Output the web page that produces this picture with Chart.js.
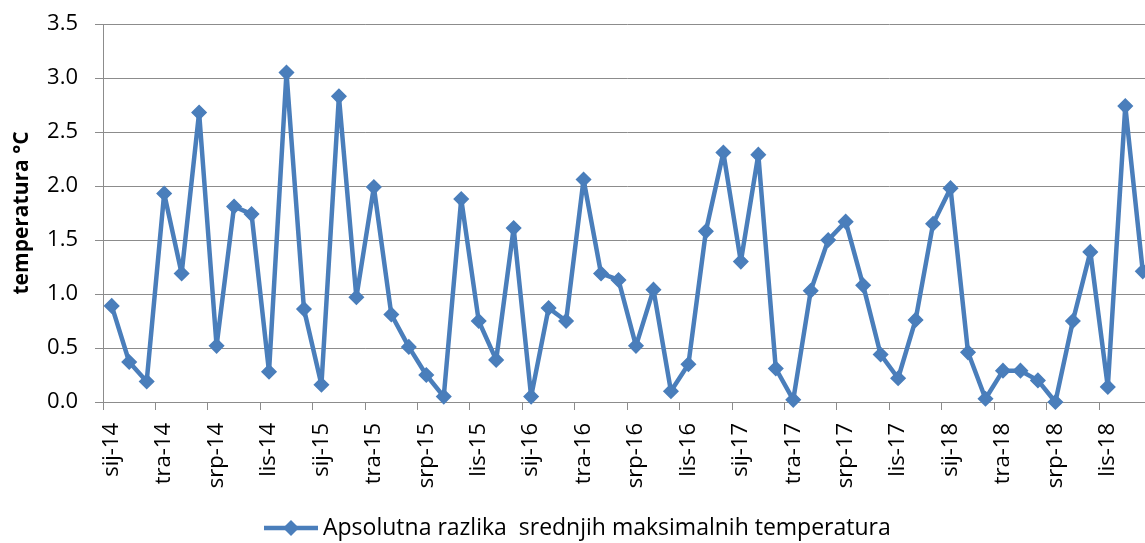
<!DOCTYPE html>
<html>
<head>
<meta charset="utf-8">
<script src="https://cdn.jsdelivr.net/npm/chart.js@4.4.1/dist/chart.umd.min.js"></script>
<style>
  html, body { margin: 0; padding: 0; background: #ffffff; overflow: hidden; }
  body { width: 1200px; }
  #wrap { width: 1160px; height: 543px; }
  #c { width: 1160px !important; height: 543px !important; display: block; }
</style>
</head>
<body>
<div id="wrap"><canvas id="c" width="1160" height="543"></canvas></div>
<script>
// Month abbreviations (Croatian) and years
const months = ['sij', 'velj', 'ožu', 'tra', 'svi', 'lip', 'srp', 'kol', 'ruj', 'lis', 'stu', 'pro'];
const years = ['14', '15', '16', '17', '18'];

// Series values (°C), Jan 2014 – Dec 2018
const values2014 = [0.89, 0.37, 0.19, 1.93, 1.19, 2.68, 0.52, 1.81, 1.74, 0.28, 3.05, 0.86];
const values2015 = [0.16, 2.83, 0.97, 1.99, 0.81, 0.51, 0.25, 0.05, 1.88, 0.75, 0.39, 1.61];
const values2016 = [0.05, 0.87, 0.75, 2.06, 1.19, 1.13, 0.52, 1.04, 0.10, 0.35, 1.58, 2.31];
const values2017 = [1.30, 2.29, 0.31, 0.02, 1.03, 1.50, 1.67, 1.08, 0.44, 0.22, 0.76, 1.65];
const values2018 = [1.98, 0.46, 0.03, 0.29, 0.29, 0.20, 0.00, 0.75, 1.39, 0.14, 2.74, 1.21];

const yTicks = [0, 0.5, 1.0, 1.5, 2.0, 2.5, 3.0, 3.5];
const seriesLabel = 'Apsolutna razlika  srednjih maksimalnih temperatura';
const yTitle = 'temperatura °C';

const categories = [];
years.forEach(y => months.forEach(m => categories.push(m + '-' + y)));
const values = [].concat(values2014, values2015, values2016, values2017, values2018);

const BLUE = '#4A7EBB';
const GRID = '#8C8C8C';
const FONT = "'Open Sans', 'Noto Sans', sans-serif";

const legendPlugin = {
  id: 'customLegend',
  afterDraw(chart) {
    const ctx = chart.ctx;
    const ds = chart.data.datasets[0];
    const cy = 528;
    const x0 = 264, x1 = 318;
    ctx.save();
    ctx.strokeStyle = BLUE;
    ctx.lineWidth = 4.5;
    ctx.beginPath();
    ctx.moveTo(x0, cy);
    ctx.lineTo(x1, cy);
    ctx.stroke();
    const cx = (x0 + x1) / 2, r = 8;
    ctx.fillStyle = BLUE;
    ctx.beginPath();
    ctx.moveTo(cx, cy - r);
    ctx.lineTo(cx + r, cy);
    ctx.lineTo(cx, cy + r);
    ctx.lineTo(cx - r, cy);
    ctx.closePath();
    ctx.fill();
    ctx.fillStyle = '#000000';
    ctx.font = "23px " + FONT;
    ctx.textBaseline = 'middle';
    ctx.textAlign = 'left';
    ctx.fillText(ds.label, 323, cy);
    ctx.restore();
  }
};

new Chart(document.getElementById('c'), {
  type: 'line',
  data: {
    labels: categories,
    datasets: [{
      label: seriesLabel,
      data: values,
      borderColor: BLUE,
      backgroundColor: BLUE,
      borderWidth: 4.5,
      borderJoinStyle: 'round',
      pointStyle: 'rectRot',
      pointRadius: 7,
      pointBorderWidth: 1.5,
      pointBackgroundColor: BLUE,
      pointBorderColor: BLUE,
      tension: 0,
      fill: false,
      clip: false
    }]
  },
  options: {
    responsive: false,
    maintainAspectRatio: false,
    animation: false,
    devicePixelRatio: 1,
    layout: { padding: { top: 24, bottom: 41, left: 0, right: 8 } },
    plugins: {
      legend: { display: false },
      tooltip: { enabled: false }
    },
    scales: {
      x: {
        type: 'category',
        offset: true,
        afterFit(s) { s.height = 100; s.paddingLeft = 0; s.paddingRight = 0; },
        grid: {
          offset: true,
          drawOnChartArea: false,
          drawTicks: true,
          tickLength: 8,
          color: (c) => (c.index !== undefined && c.index % 3 === 0) ? GRID : 'rgba(0,0,0,0)',
          lineWidth: 1
        },
        border: { display: true, color: GRID, width: 1 },
        ticks: {
          autoSkip: false,
          maxRotation: 90,
          minRotation: 90,
          padding: 13,
          color: '#000000',
          font: { family: FONT, size: 22 },
          callback: function (v, i) { return i % 3 === 0 ? this.getLabelForValue(v) : ''; }
        }
      },
      y: {
        min: 0,
        max: 3.5,
        afterFit(s) { s.width = 103; s.paddingTop = 0; s.paddingBottom = 0; },
        afterBuildTicks(s) { s.ticks = yTicks.map(v => ({ value: v })); },
        grid: { color: GRID, lineWidth: 1, tickLength: 8, drawTicks: true },
        border: { display: true, color: GRID, width: 1 },
        ticks: {
          padding: 17,
          color: '#000000',
          font: { family: FONT, size: 22 },
          callback: (v) => Number(v).toFixed(1)
        },
        title: {
          display: true,
          text: yTitle,
          color: '#000000',
          font: { family: FONT, size: 21, weight: 'bold' },
          padding: { top: 9, bottom: 0 }
        }
      }
    }
  },
  plugins: [legendPlugin]
});
</script>
</body>
</html>
